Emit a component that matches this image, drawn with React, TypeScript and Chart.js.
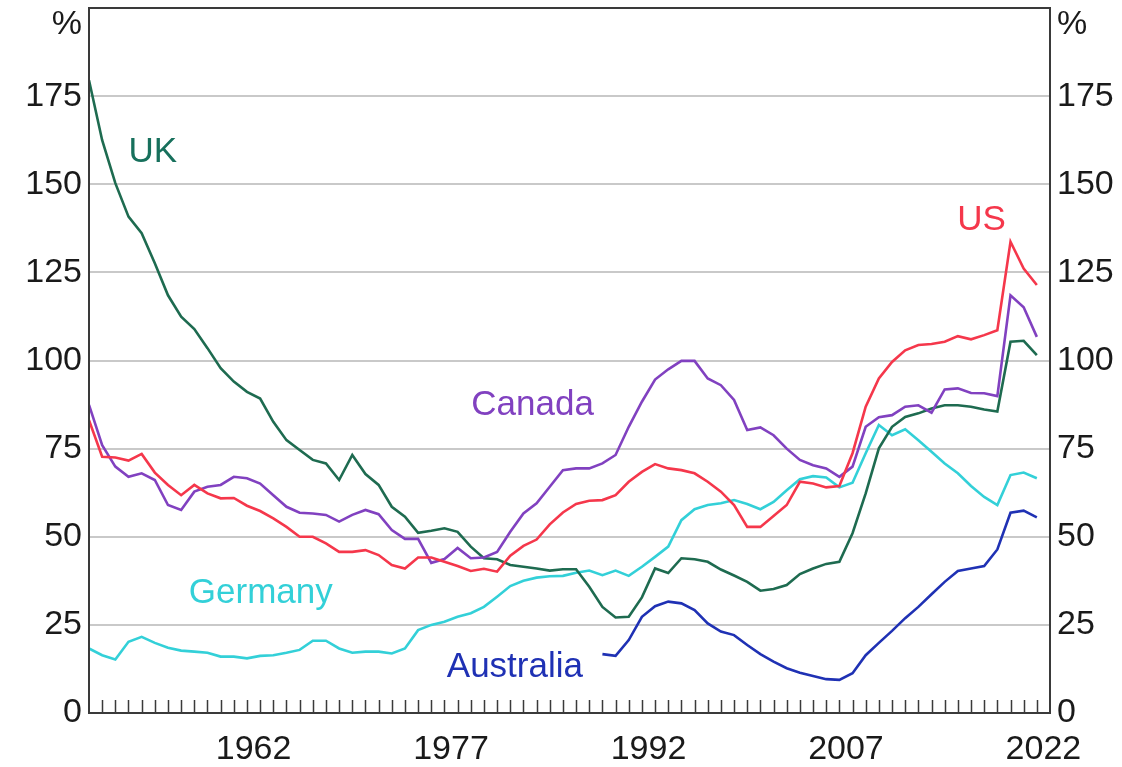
import { useEffect, useRef } from "react";
import { Chart, registerables } from "chart.js";

Chart.register(...registerables);

// ---- data ----
const START_YEAR = 1950;
const END_YEAR = 2022;
const years: number[] = [];
for (let y = START_YEAR; y <= END_YEAR; y++) years.push(y);
const australiaStart = 1989;
const australiaYears = years.filter((y) => y >= australiaStart);

const xLabelYears = [1962, 1977, 1992, 2007, 2022];
const yTickValues = [0, 25, 50, 75, 100, 125, 150, 175];

const uk = [
  179.5, 162.5, 150.3, 140.8, 136.1, 127.6, 118.5, 112.4, 108.9, 103.5,
  97.8, 94.0, 91.1, 89.2, 82.6, 77.4, 74.6, 71.8, 70.8, 66.1,
  73.2, 67.8, 64.7, 58.5, 55.7, 51.1, 51.7, 52.4, 51.4, 47.2,
  43.9, 43.6, 42.0, 41.5, 41.0, 40.4, 40.8, 40.8, 35.8, 30.1,
  27.1, 27.3, 32.8, 41.0, 39.7, 43.9, 43.6, 42.9, 40.7, 39.0,
  37.2, 34.7, 35.2, 36.3, 39.4, 41.0, 42.3, 42.9, 51.0, 62.3,
  75.1, 81.2, 84.0, 85.0, 86.4, 87.3, 87.3, 86.9, 86.1, 85.5,
  105.3, 105.6, 101.5,
];

const us = [
  83.1, 72.7, 72.5, 71.6, 73.5, 68.2, 64.7, 61.8, 64.7, 62.3,
  60.9, 61.0, 58.8, 57.3, 55.2, 52.8, 50.0, 50.0, 48.1, 45.7,
  45.7, 46.2, 44.8, 42.0, 41.0, 44.1, 44.1, 42.9, 41.7, 40.3,
  40.9, 40.1, 44.6, 47.4, 49.2, 53.5, 56.9, 59.3, 60.2, 60.4,
  61.8, 65.6, 68.4, 70.6, 69.4, 68.9, 68.0, 65.6, 62.8, 59.0,
  52.8, 52.8, 55.9, 59.0, 65.6, 65.1, 64.0, 64.4, 73.7, 86.9,
  94.9, 99.6, 102.9, 104.4, 104.7, 105.3, 106.9, 106.0, 107.2, 108.6,
  133.7, 126.1, 121.4,
];

const canada = [
  87.4, 76.0, 69.9, 67.0, 68.0, 66.1, 59.0, 57.6, 62.8, 64.2,
  64.7, 67.0, 66.6, 65.1, 61.8, 58.5, 56.8, 56.6, 56.2, 54.3,
  56.2, 57.6, 56.4, 51.9, 49.4, 49.4, 42.6, 43.7, 46.8, 43.9,
  44.1, 45.7, 51.4, 56.6, 59.5, 64.2, 68.9, 69.4, 69.4, 70.8,
  73.2, 81.2, 88.3, 94.6, 97.5, 99.9, 99.9, 94.9, 93.0, 88.8,
  80.3, 81.0, 78.8, 75.0, 71.8, 70.3, 69.4, 67.0, 69.9, 81.2,
  83.9, 84.5, 86.9, 87.3, 85.2, 91.8, 92.1, 90.8, 90.7, 89.9,
  118.5, 115.1, 106.7,
];

const germany = [
  18.3, 16.4, 15.2, 20.2, 21.6, 19.9, 18.5, 17.7, 17.4, 17.1,
  16.0, 16.0, 15.5, 16.2, 16.4, 17.1, 17.9, 20.5, 20.5, 18.3,
  17.1, 17.4, 17.4, 16.9, 18.3, 23.5, 25.0, 25.9, 27.3, 28.3,
  30.1, 33.0, 36.0, 37.5, 38.4, 38.8, 38.9, 39.8, 40.4, 39.1,
  40.4, 38.9, 41.5, 44.3, 47.2, 54.7, 57.8, 59.0, 59.5, 60.4,
  59.3, 57.8, 59.9, 63.2, 66.3, 67.2, 66.8, 64.0, 65.3, 73.7,
  81.7, 78.8, 80.5, 77.4, 74.1, 70.8, 68.0, 64.4, 61.3, 59.0,
  67.5, 68.2, 66.6,
];

const australia = [
  16.7, 16.2, 20.7, 27.3, 30.3, 31.6, 31.1, 29.2, 25.4, 23.1,
  22.1, 19.3, 16.7, 14.6, 12.7, 11.4, 10.5, 9.6, 9.4, 11.3,
  16.4, 19.9, 23.3, 26.9, 30.1, 33.7, 37.2, 40.3, 41.0, 41.7,
  46.4, 56.8, 57.4, 55.5,
];

const seriesNames = ["US", "Canada", "UK", "Australia", "Germany"];
const seriesColors = ["#f5374b", "#8141c0", "#1e6b50", "#1f31b4", "#33d0d8"];
const labelColors = ["#f5374b", "#8141c0", "#17705c", "#1f31b4", "#33d0d8"];
// label anchor (year, value) for each series name
const labelYears = [2017.8, 1983.7, 1954.85, 1982.35, 1963.05];
const labelValues = [137.0, 84.5, 156.3, 10.2, 31.2];

const FONT = '"Liberation Sans", Arial, Helvetica, sans-serif';

const toPoints = (xs: number[], vs: number[]) => xs.map((x, i) => ({ x, y: vs[i] }));

const decorPlugin = {
  id: "decor",
  afterDatasetsDraw(chart: any) {
    const { ctx, chartArea: a, scales } = chart;
    const xs = scales.x;
    const ys = scales.y;
    ctx.save();
    // series labels
    ctx.font = `35px ${FONT}`;
    ctx.textAlign = "center";
    ctx.textBaseline = "alphabetic";
    seriesNames.forEach((name, i) => {
      ctx.fillStyle = labelColors[i];
      ctx.fillText(name, xs.getPixelForValue(labelYears[i]), ys.getPixelForValue(labelValues[i]));
    });
    // minor year ticks (inward)
    ctx.strokeStyle = "#3a3a3a";
    ctx.lineWidth = 1.5;
    ctx.beginPath();
    years.forEach((yr) => {
      if (yr === START_YEAR) return;
      const px = Math.round(xs.getPixelForValue(yr)) + 0.5;
      ctx.moveTo(px, a.bottom);
      ctx.lineTo(px, a.bottom - 13);
    });
    ctx.stroke();
    // frame
    ctx.lineWidth = 2;
    ctx.strokeStyle = "#3a3a3a";
    ctx.strokeRect(a.left, a.top, a.right - a.left, a.bottom - a.top);
    // % units
    ctx.fillStyle = "#1a1a1a";
    ctx.font = `34px ${FONT}`;
    ctx.textBaseline = "alphabetic";
    ctx.textAlign = "right";
    ctx.fillText("%", a.left - 7, 34);
    ctx.textAlign = "left";
    ctx.fillText("%", a.right + 7, 34);
    ctx.restore();
  },
};

export default function App() {
  const canvasRef = useRef<HTMLCanvasElement | null>(null);

  useEffect(() => {
    const canvas = canvasRef.current;
    if (!canvas) return;
    const seriesValues = [us, canada, uk, australia, germany];
    const datasets = seriesNames.map((name, i) => ({
      label: name,
      data: toPoints(name === "Australia" ? australiaYears : years, seriesValues[i]),
      borderColor: seriesColors[i],
      backgroundColor: seriesColors[i],
      borderWidth: 2.6,
      pointRadius: 0,
      tension: 0,
      fill: false,
      yAxisID: "y",
    }));

    const yTickCommon = {
      min: 0,
      max: 200,
      afterBuildTicks: (scale: any) => {
        scale.ticks = yTickValues.map((v) => ({ value: v }));
      },
    };

    const chart = new Chart(canvas, {
      type: "line",
      data: { datasets },
      plugins: [decorPlugin],
      options: {
        animation: false,
        responsive: false,
        devicePixelRatio: 1,
        layout: { padding: { top: 8, left: 0, right: 0, bottom: 0 } },
        plugins: {
          legend: { display: false },
          tooltip: { enabled: false },
        },
        scales: {
          x: {
            type: "linear",
            position: "bottom",
            min: START_YEAR,
            max: END_YEAR + 1,
            grid: { display: false, drawTicks: false },
            border: { display: false },
            afterBuildTicks: (scale: any) => {
              scale.ticks = xLabelYears.map((v) => ({ value: v + 0.5 }));
            },
            afterFit: (scale: any) => {
              scale.height = 54;
              scale.paddingLeft = 0;
              scale.paddingRight = 0;
            },
            ticks: {
              autoSkip: false,
              maxRotation: 0,
              minRotation: 0,
              padding: 16,
              color: "#1a1a1a",
              font: { family: FONT, size: 34 },
              callback: (v: any) => String(Math.floor(Number(v))),
            },
          },
          y: {
            ...yTickCommon,
            position: "left",
            grid: {
              drawTicks: false,
              color: (c: any) => (c.tick && (c.tick.value === 0 || c.tick.value === 200) ? "rgba(0,0,0,0)" : "#c9c9c9"),
              lineWidth: 2,
            },
            border: { display: false },
            afterFit: (scale: any) => {
              scale.width = 89;
              scale.paddingTop = 0;
              scale.paddingBottom = 0;
            },
            ticks: {
              padding: 7,
              color: "#1a1a1a",
              font: { family: FONT, size: 34 },
              callback: (v: any) => String(v),
            },
          },
          y2: {
            ...yTickCommon,
            position: "right",
            grid: { display: false, drawTicks: false },
            border: { display: false },
            afterFit: (scale: any) => {
              scale.width = 72;
              scale.paddingTop = 0;
              scale.paddingBottom = 0;
            },
            ticks: {
              padding: 7,
              color: "#1a1a1a",
              font: { family: FONT, size: 34 },
              callback: (v: any) => String(v),
            },
          },
        },
      } as any,
    });
    return () => chart.destroy();
  }, []);

  return (
    <div style={{ position: "absolute", left: 0, top: 0, width: 1122, height: 767, background: "#fff" }}>
      <canvas ref={canvasRef} width={1122} height={767} style={{ width: 1122, height: 767, display: "block" }} />
    </div>
  );
}
